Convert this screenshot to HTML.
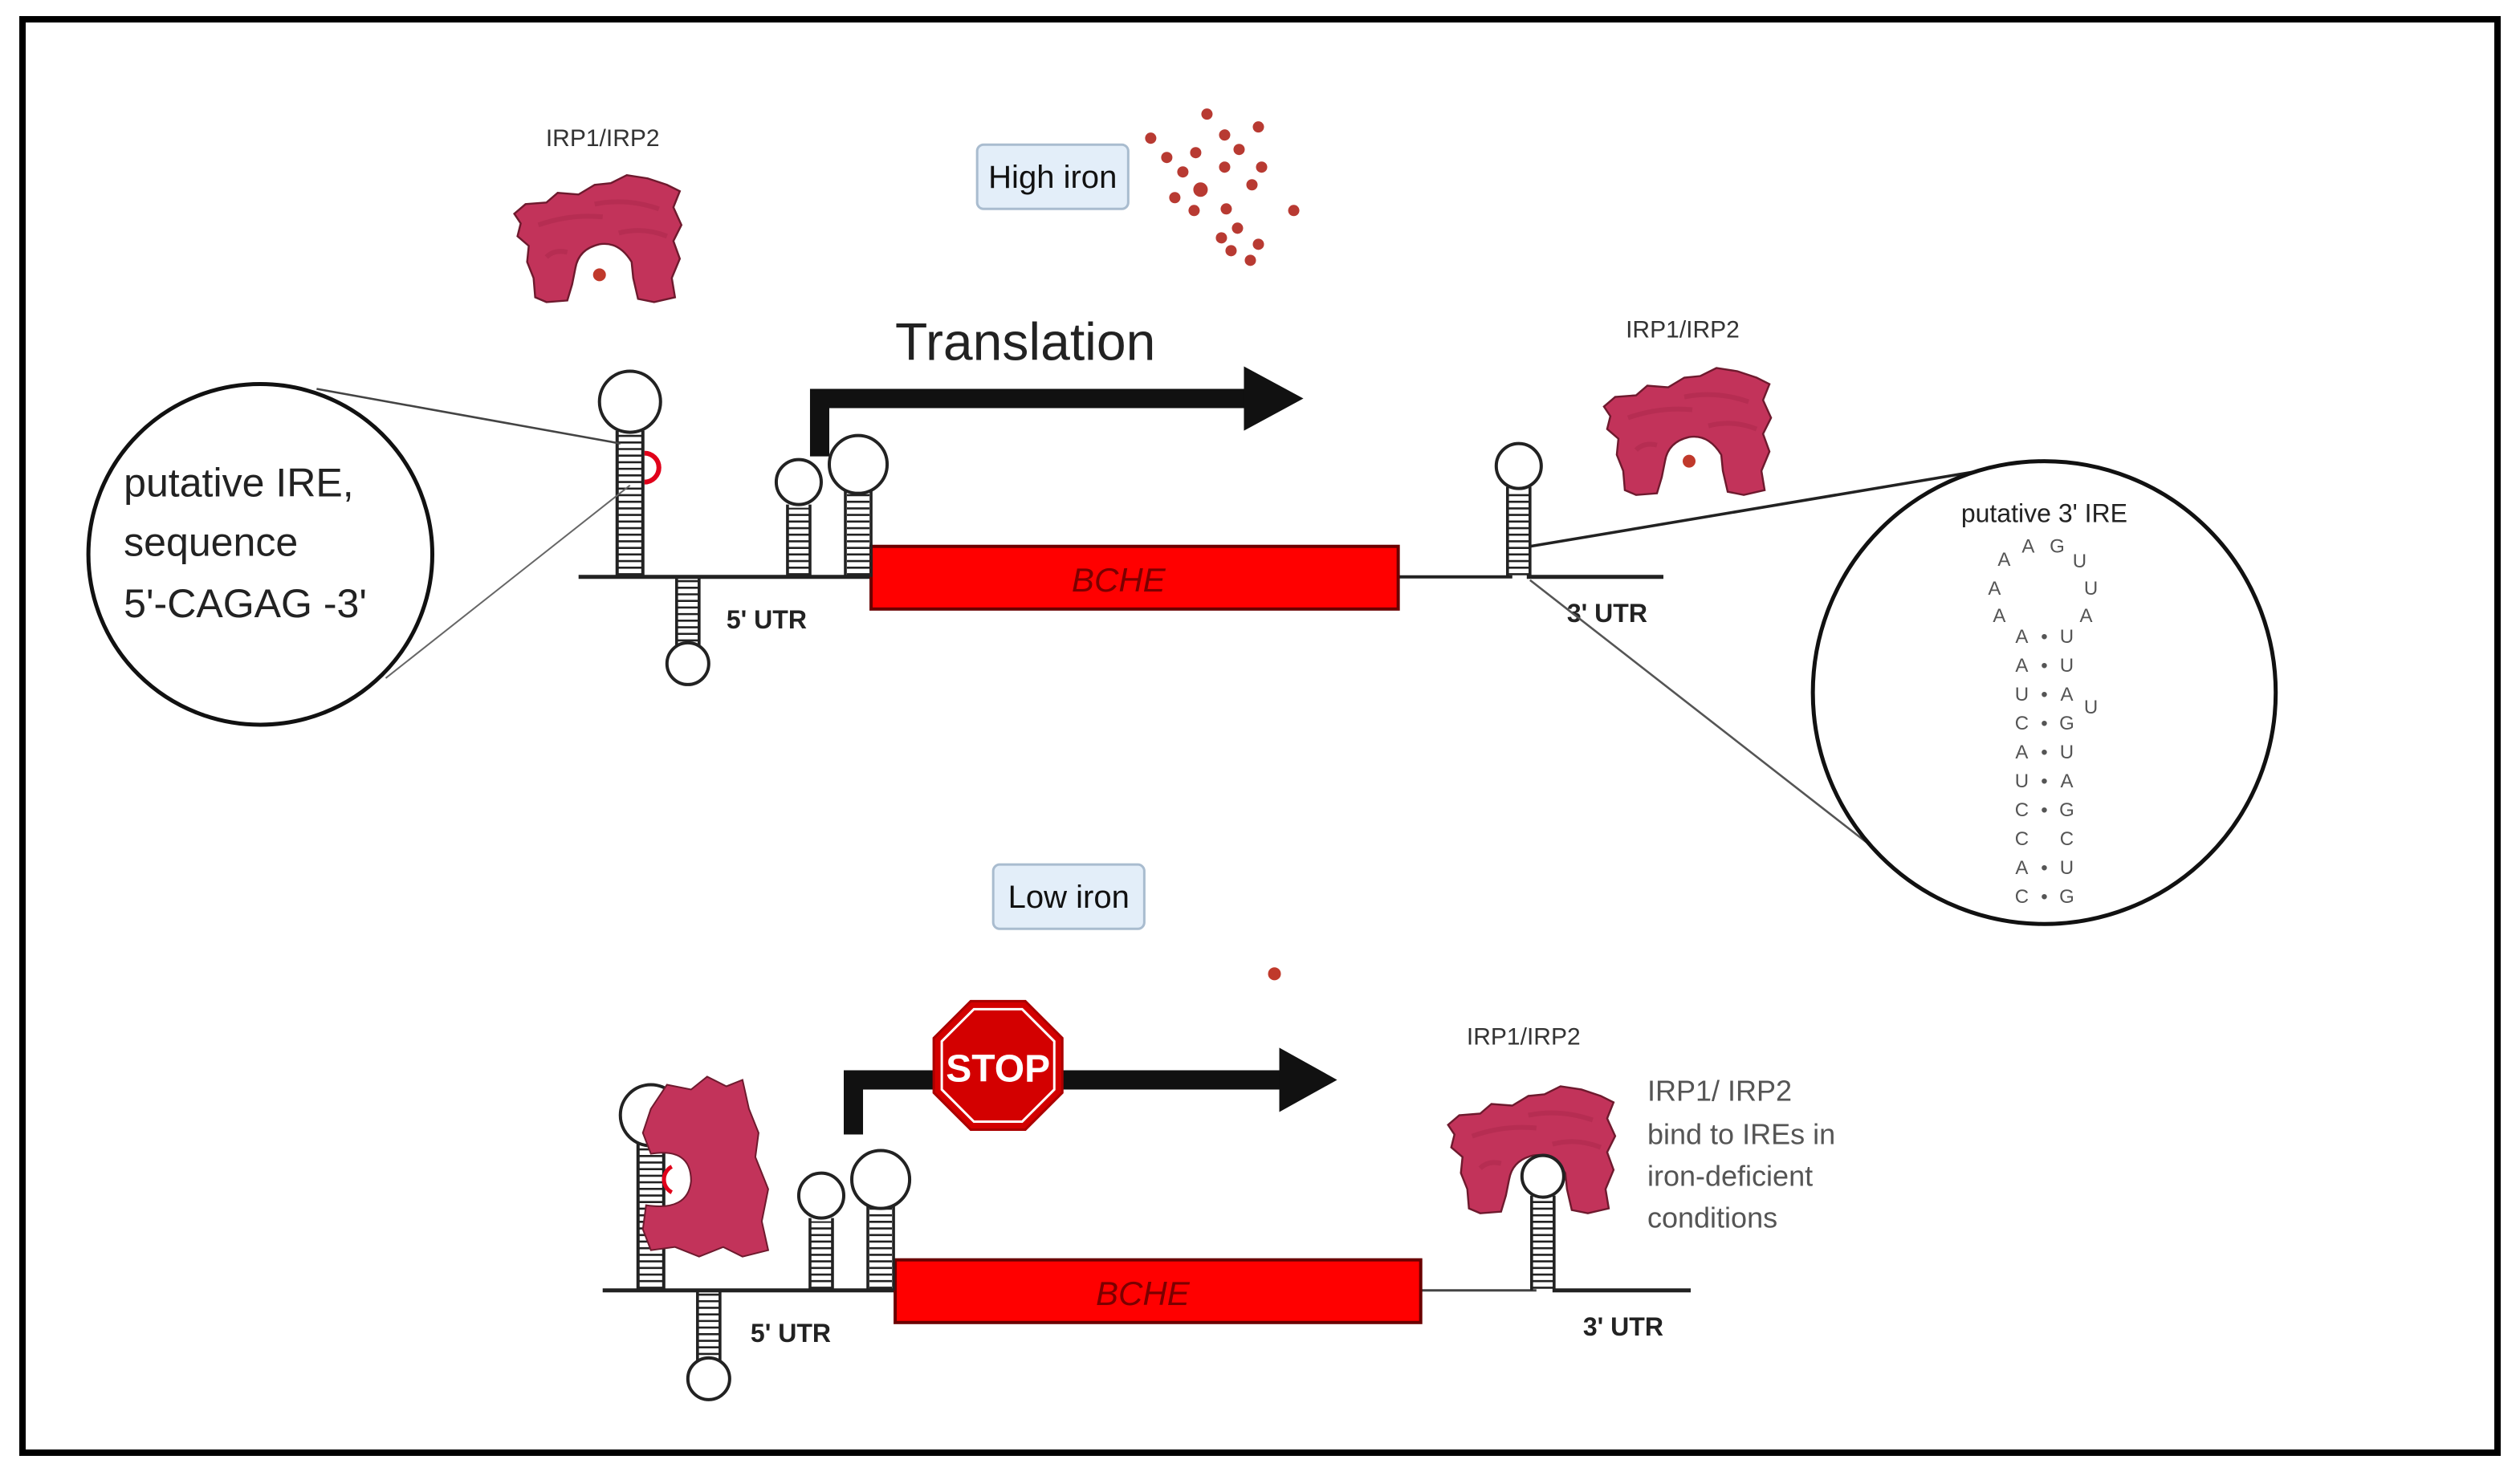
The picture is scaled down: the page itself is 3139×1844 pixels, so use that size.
<!DOCTYPE html>
<html><head><meta charset="utf-8"><style>
html,body{margin:0;padding:0;background:#fff;}
svg{display:block;}
text{font-family:"Liberation Sans",sans-serif;}
</style></head><body>
<svg width="3139" height="1844" viewBox="0 0 1568 921" preserveAspectRatio="none" xmlns="http://www.w3.org/2000/svg">
<defs>
<g id="blob">
<path d="M5,28 L12,22 L25,21 L32,15 L45,16 L55,10 L65,9 L75,4 L88,6 L100,10 L108,14 L104,24 L109,35 L104,45 L108,56 L103,68 L105,80 L92,83 L82,81 L79,68 L78,58 Q70,45 58,47 Q45,50 43,62 L41,72 L38,82 L25,83 L18,80 L17,68 L13,58 L14,48 L7,42 L9,34 Z" fill="#c2335a" stroke="#6e1a2e" stroke-width="1.2"/>
<path d="M20,35 Q40,28 60,30 M55,22 Q75,18 95,25 M70,40 Q85,36 100,42 M25,55 Q30,50 38,52" fill="none" stroke="#ad2a4c" stroke-width="3" opacity="0.6"/>
</g>
</defs>
<rect x="0" y="0" width="1568" height="921" fill="#fff"/>
<rect x="14" y="12" width="1540" height="892" fill="none" stroke="#000" stroke-width="4"/>

<text x="375" y="91" font-size="15" fill="#333" text-anchor="middle">IRP1/IRP2</text>
<use href="#blob" x="315" y="105"/>
<circle cx="373" cy="171" r="4" fill="#c0392b"/>

<rect x="608" y="90" width="94" height="40" rx="4" fill="#e3eef9" stroke="#a9bccf" stroke-width="1.5"/>
<text x="655" y="117" font-size="20" fill="#111" text-anchor="middle">High iron</text>
<g fill="#b83a32">
<circle cx="751" cy="71" r="3.5"/><circle cx="783" cy="79" r="3.5"/><circle cx="762" cy="84" r="3.5"/><circle cx="716" cy="86" r="3.5"/>
<circle cx="744" cy="95" r="3.5"/><circle cx="771" cy="93" r="3.5"/><circle cx="785" cy="104" r="3.5"/><circle cx="726" cy="98" r="3.5"/>
<circle cx="736" cy="107" r="3.5"/><circle cx="762" cy="104" r="3.5"/><circle cx="747" cy="118" r="4.5"/><circle cx="779" cy="115" r="3.5"/>
<circle cx="731" cy="123" r="3.5"/><circle cx="743" cy="131" r="3.5"/><circle cx="763" cy="130" r="3.5"/><circle cx="805" cy="131" r="3.5"/>
<circle cx="770" cy="142" r="3.5"/><circle cx="760" cy="148" r="3.5"/><circle cx="783" cy="152" r="3.5"/><circle cx="766" cy="156" r="3.5"/><circle cx="778" cy="162" r="3.5"/>
</g>

<text x="557" y="224" font-size="33" fill="#222">Translation</text>
<path d="M510,284 L510,248 L776,248" fill="none" stroke="#111" stroke-width="12"/>
<polygon points="774,228 811,248 774,268" fill="#111"/>

<line x1="360" y1="359" x2="545" y2="359" stroke="#222" stroke-width="2.5"/>
<line x1="870" y1="359" x2="941" y2="359" stroke="#222" stroke-width="2"/>
<line x1="950" y1="359" x2="1035" y2="359" stroke="#222" stroke-width="2.5"/>
<rect x="542" y="340" width="328" height="39" fill="#ff0000" stroke="#6a0000" stroke-width="2"/>
<text x="696" y="368" font-size="21" font-style="italic" fill="#7a0000" text-anchor="middle">BCHE</text>

<line x1="392" y1="358" x2="392" y2="268" stroke="#222" stroke-width="15" stroke-dasharray="1.3 2.8"/>
<line x1="384" y1="359" x2="384" y2="268" stroke="#222" stroke-width="2"/>
<line x1="400" y1="359" x2="400" y2="268" stroke="#222" stroke-width="2"/>
<circle cx="392" cy="250" r="19" fill="#fff" stroke="#222" stroke-width="2"/>
<path d="M401,282 A9,9 0 0 1 401,300" fill="none" stroke="#e0001a" stroke-width="3"/>
<line x1="428" y1="361" x2="428" y2="402" stroke="#222" stroke-width="13" stroke-dasharray="1.3 2.8"/>
<line x1="421" y1="359" x2="421" y2="403" stroke="#222" stroke-width="1.8"/>
<line x1="435" y1="359" x2="435" y2="403" stroke="#222" stroke-width="1.8"/>
<circle cx="428" cy="413" r="13" fill="#fff" stroke="#222" stroke-width="2"/>
<line x1="497" y1="358" x2="497" y2="316" stroke="#222" stroke-width="13" stroke-dasharray="1.3 2.8"/>
<line x1="490" y1="359" x2="490" y2="314" stroke="#222" stroke-width="1.8"/>
<line x1="504" y1="359" x2="504" y2="314" stroke="#222" stroke-width="1.8"/>
<circle cx="497" cy="300" r="14" fill="#fff" stroke="#222" stroke-width="2"/>
<line x1="534" y1="358" x2="534" y2="306" stroke="#222" stroke-width="14" stroke-dasharray="1.3 2.8"/>
<line x1="526" y1="359" x2="526" y2="305" stroke="#222" stroke-width="1.8"/>
<line x1="542" y1="359" x2="542" y2="305" stroke="#222" stroke-width="1.8"/>
<circle cx="534" cy="289" r="18" fill="#fff" stroke="#222" stroke-width="2"/>
<text x="452" y="391" font-size="16" font-weight="bold" fill="#222">5' UTR</text>

<line x1="197" y1="242" x2="386" y2="276" stroke="#444" stroke-width="1.3"/>
<line x1="240" y1="422" x2="392" y2="302" stroke="#666" stroke-width="1"/>
<ellipse cx="162" cy="345" rx="107" ry="106" fill="#fff" stroke="#111" stroke-width="2.5"/>
<text x="77" y="309" font-size="25" fill="#222">putative IRE,</text>
<text x="77" y="346" font-size="25" fill="#222">sequence</text>
<text x="77" y="384" font-size="25" fill="#222">5'-CAGAG -3'</text>

<line x1="945" y1="358" x2="945" y2="305" stroke="#222" stroke-width="13" stroke-dasharray="1.3 2.8"/>
<line x1="938" y1="359" x2="938" y2="303" stroke="#222" stroke-width="1.8"/>
<line x1="952" y1="359" x2="952" y2="303" stroke="#222" stroke-width="1.8"/>
<circle cx="945" cy="290" r="14" fill="#fff" stroke="#222" stroke-width="2"/>
<text x="975" y="387" font-size="16" font-weight="bold" fill="#222">3' UTR</text>

<text x="1047" y="210" font-size="15" fill="#333" text-anchor="middle">IRP1/IRP2</text>
<use href="#blob" x="993" y="225"/>
<circle cx="1051" cy="287" r="4" fill="#c0392b"/>

<line x1="952" y1="340" x2="1238" y2="292" stroke="#222" stroke-width="1.8"/>
<line x1="952" y1="361" x2="1165" y2="527" stroke="#555" stroke-width="1.3"/>
<ellipse cx="1272" cy="431" rx="144" ry="144" fill="#fff" stroke="#111" stroke-width="2.5"/>
<text x="1272" y="325" font-size="16" fill="#222" text-anchor="middle">putative 3' IRE</text>
<g font-size="12" fill="#555" text-anchor="middle">
<text x="1247" y="352">A</text><text x="1262" y="344">A</text><text x="1280" y="344">G</text><text x="1294" y="353">U</text>
<text x="1241" y="370">A</text><text x="1301" y="370">U</text>
<text x="1244" y="387">A</text><text x="1298" y="387">A</text>
<text x="1258" y="400">A</text><text x="1272" y="400">•</text><text x="1286" y="400">U</text>
<text x="1258" y="418">A</text><text x="1272" y="418">•</text><text x="1286" y="418">U</text>
<text x="1258" y="436">U</text><text x="1272" y="436">•</text><text x="1286" y="436">A</text><text x="1301" y="444">U</text>
<text x="1258" y="454">C</text><text x="1272" y="454">•</text><text x="1286" y="454">G</text>
<text x="1258" y="472">A</text><text x="1272" y="472">•</text><text x="1286" y="472">U</text>
<text x="1258" y="490">U</text><text x="1272" y="490">•</text><text x="1286" y="490">A</text>
<text x="1258" y="508">C</text><text x="1272" y="508">•</text><text x="1286" y="508">G</text>
<text x="1258" y="526">C</text><text x="1286" y="526">C</text>
<text x="1258" y="544">A</text><text x="1272" y="544">•</text><text x="1286" y="544">U</text>
<text x="1258" y="562">C</text><text x="1272" y="562">•</text><text x="1286" y="562">G</text>
</g>

<rect x="618" y="538" width="94" height="40" rx="4" fill="#e3eef9" stroke="#a9bccf" stroke-width="1.5"/>
<text x="665" y="565" font-size="20" fill="#111" text-anchor="middle">Low iron</text>
<circle cx="793" cy="606" r="4" fill="#c0392b"/>

<path d="M531,706 L531,672 L802,672" fill="none" stroke="#111" stroke-width="12"/>
<polygon points="796,652 832,672 796,692" fill="#111"/>
<polygon points="604,623 638,623 661,646 661,680 638,703 604,703 581,680 581,646" fill="#d30000" stroke="#a00" stroke-width="1.5"/>
<polygon points="606,628 636,628 656,648 656,678 636,698 606,698 586,678 586,648" fill="none" stroke="#fff" stroke-width="1.5"/>
<text x="621" y="673" font-size="24" font-weight="bold" fill="#fff" text-anchor="middle">STOP</text>

<line x1="375" y1="803" x2="560" y2="803" stroke="#222" stroke-width="2.5"/>
<line x1="884" y1="803" x2="956" y2="803" stroke="#444" stroke-width="1.5"/>
<line x1="966" y1="803" x2="1052" y2="803" stroke="#222" stroke-width="2.5"/>
<rect x="557" y="784" width="327" height="39" fill="#ff0000" stroke="#6a0000" stroke-width="2"/>
<text x="711" y="812" font-size="21" font-style="italic" fill="#7a0000" text-anchor="middle">BCHE</text>

<line x1="405" y1="802" x2="405" y2="710" stroke="#222" stroke-width="15" stroke-dasharray="1.3 2.8"/>
<line x1="397" y1="803" x2="397" y2="710" stroke="#222" stroke-width="2"/>
<line x1="413" y1="803" x2="413" y2="710" stroke="#222" stroke-width="2"/>
<circle cx="405" cy="694" r="19" fill="#fff" stroke="#222" stroke-width="2"/>
<path d="M405,690 L415,675 L430,678 L440,670 L452,676 L462,672 L466,690 L472,705 L470,720 L478,740 L474,760 L478,778 L462,782 L450,776 L435,782 L420,776 L405,778 L400,765 L402,750 Q428,754 430,735 Q430,714 405,718 L400,705 Z" fill="#c2335a" stroke="#6e1a2e" stroke-width="1"/>
<path d="M418,726 A9,9 0 0 0 418,742" fill="none" stroke="#e0001a" stroke-width="2.5"/>
<line x1="441" y1="805" x2="441" y2="847" stroke="#222" stroke-width="13" stroke-dasharray="1.3 2.8"/>
<line x1="434" y1="803" x2="434" y2="848" stroke="#222" stroke-width="1.8"/>
<line x1="448" y1="803" x2="448" y2="848" stroke="#222" stroke-width="1.8"/>
<circle cx="441" cy="858" r="13" fill="#fff" stroke="#222" stroke-width="2"/>
<line x1="511" y1="802" x2="511" y2="760" stroke="#222" stroke-width="13" stroke-dasharray="1.3 2.8"/>
<line x1="504" y1="803" x2="504" y2="758" stroke="#222" stroke-width="1.8"/>
<line x1="518" y1="803" x2="518" y2="758" stroke="#222" stroke-width="1.8"/>
<circle cx="511" cy="744" r="14" fill="#fff" stroke="#222" stroke-width="2"/>
<line x1="548" y1="802" x2="548" y2="751" stroke="#222" stroke-width="14" stroke-dasharray="1.3 2.8"/>
<line x1="540" y1="803" x2="540" y2="750" stroke="#222" stroke-width="1.8"/>
<line x1="556" y1="803" x2="556" y2="750" stroke="#222" stroke-width="1.8"/>
<circle cx="548" cy="734" r="18" fill="#fff" stroke="#222" stroke-width="2"/>
<text x="467" y="835" font-size="16" font-weight="bold" fill="#222">5' UTR</text>

<text x="948" y="650" font-size="15" fill="#333" text-anchor="middle">IRP1/IRP2</text>
<use href="#blob" x="896" y="672"/>
<line x1="960" y1="802" x2="960" y2="745" stroke="#222" stroke-width="13" stroke-dasharray="1.3 2.8"/>
<line x1="953" y1="803" x2="953" y2="744" stroke="#222" stroke-width="1.8"/>
<line x1="967" y1="803" x2="967" y2="744" stroke="#222" stroke-width="1.8"/>
<circle cx="960" cy="732" r="13" fill="#fff" stroke="#222" stroke-width="2"/>
<text x="985" y="831" font-size="16" font-weight="bold" fill="#222">3' UTR</text>

<g font-size="18" fill="#555">
<text x="1025" y="685">IRP1/ IRP2</text>
<text x="1025" y="712">bind to IREs in</text>
<text x="1025" y="738">iron-deficient</text>
<text x="1025" y="764">conditions</text>
</g>
</svg>
</body></html>
